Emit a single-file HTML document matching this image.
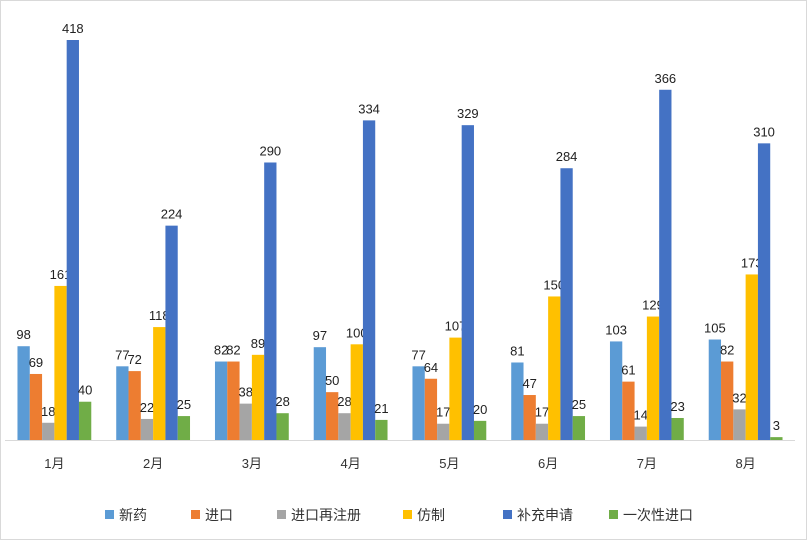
<!DOCTYPE html>
<html><head><meta charset="utf-8"><style>
body{margin:0;background:#fff}
svg{display:block;font-family:"Liberation Sans","Noto Sans CJK SC",sans-serif}
</style></head><body>
<svg id="chart" width="807" height="540">
<rect x="0.5" y="0.5" width="806" height="539" fill="#fff" stroke="#d9d9d9"/>
<line x1="5" y1="440.5" x2="795" y2="440.5" stroke="#d9d9d9"/>
<g id="bars"></g><g id="xlabels"></g><g id="legend"></g>
</svg>
<script>
const categories=["1月","2月","3月","4月","5月","6月","7月","8月"];
const seriesNames=["新药","进口","进口再注册","仿制","补充申请","一次性进口"];
const xinyao=[98,77,82,97,77,81,103,105];
const jinkou=[69,72,82,50,64,47,61,82];
const zaizhuce=[18,22,38,28,17,17,14,32];
const fangzhi=[161,118,89,100,107,150,129,173];
const buchong=[418,224,290,334,329,284,366,310];
const yicixing=[40,25,28,21,20,25,23,3];
const series=[xinyao,jinkou,zaizhuce,fangzhi,buchong,yicixing];
const colors=["#5B9BD5","#ED7D31","#A5A5A5","#FFC000","#4472C4","#70AD47"];
const NS="http://www.w3.org/2000/svg";
const x0=5,x1=795,base=440,scale=400/418;
const gw=(x1-x0)/categories.length,bw=12.3,pad=(gw-bw*6)/2;
const y=v=>base-v*scale;
const bars=document.getElementById('bars'),xl=document.getElementById('xlabels'),lg=document.getElementById('legend');
categories.forEach((c,i)=>{
  series.forEach((s,j)=>{
    const bx=x0+i*gw+pad+j*bw;
    const r=document.createElementNS(NS,'rect');
    r.setAttribute('x',bx);r.setAttribute('y',y(s[i]));r.setAttribute('width',bw);r.setAttribute('height',s[i]*scale);r.setAttribute('fill',colors[j]);
    
    
    bars.appendChild(r);
    const t=document.createElementNS(NS,'text');
    t.setAttribute('x',bx+bw/2);t.setAttribute('y',y(s[i])-7);t.setAttribute('text-anchor','middle');t.setAttribute('font-size','13');t.setAttribute('fill','#222');
    t.textContent=s[i];
    
    
    bars.appendChild(t);
  });
  const t=document.createElementNS(NS,'text');
  t.setAttribute('x',x0+i*gw+gw/2);t.setAttribute('y',468);t.setAttribute('text-anchor','middle');t.setAttribute('font-size','13');t.setAttribute('fill','#333');
  t.textContent=c;
  
  
  xl.appendChild(t);
});
const lx=[105,191,277,403,503,609];
seriesNames.forEach((n,j)=>{
  const g=document.createElementNS(NS,'g');
  
  
  const r=document.createElementNS(NS,'rect');
  r.setAttribute('x',lx[j]);r.setAttribute('y',510);r.setAttribute('width',9);r.setAttribute('height',9);r.setAttribute('fill',colors[j]);
  
  
  const t=document.createElementNS(NS,'text');
  t.setAttribute('x',lx[j]+14);t.setAttribute('y',520);t.setAttribute('font-size','14');t.setAttribute('fill','#333');
  t.textContent=n;
  
  
  g.appendChild(r);g.appendChild(t);lg.appendChild(g);
});
</script>
</body></html>
